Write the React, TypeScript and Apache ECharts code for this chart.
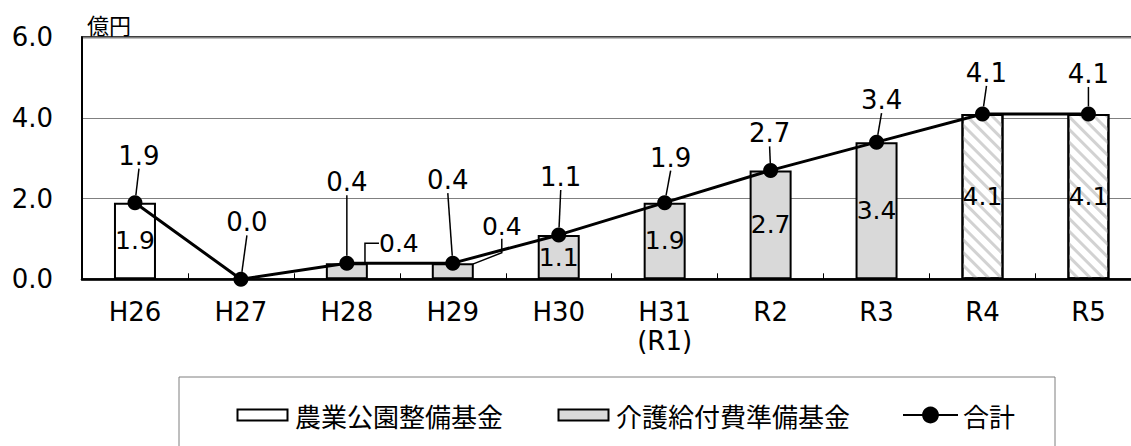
import React, { useEffect, useRef } from 'react';
import * as echarts from 'echarts';

// ---- data ----
const categories = ['H26', 'H27', 'H28', 'H29', 'H30', 'H31\n(R1)', 'R2', 'R3', 'R4', 'R5'];
const nogyoKoenKikin = [1.9, null, null, null, null, null, null, null, null, null];
const kaigoKyufuKikin = [null, null, 0.4, 0.4, 1.1, 1.9, 2.7, 3.4, 4.1, 4.1];
const kaigoIsPlan = [false, false, false, false, false, false, false, false, true, true];
const totalValues = [1.9, 0.0, 0.4, 0.4, 1.1, 1.9, 2.7, 3.4, 4.1, 4.1];
const seriesNames = ['農業公園整備基金', '介護給付費準備基金', '合計'];
const yUnit = '億円';

// ---- label placement (pixel offsets from the mark's centre) ----
const TOTAL_LABEL_OFFSETS = [
  [4, -47], [6, -57], [0, -81], [-5, -83], [2, -58],
  [6, -45], [-1, -37], [5, -42], [4, -41], [0, -40],
];
const KAIGO_LABEL_OFFSETS: (number[] | null)[] = [
  null, null, [52, -28], [49, -45], null, null, null, null, null, null,
];

const NUM_FONT = "'DejaVu Sans', 'Noto Sans CJK JP', sans-serif";
const CJK_FONT = "'Noto Sans CJK JP', sans-serif";
const RECT_ICON = 'path://M0,0M2.5,5H52.5V16H2.5ZM55,21';

export default function App() {
  const ref = useRef<HTMLDivElement>(null);

  useEffect(() => {
    if (!ref.current) return;
    const chart = echarts.init(ref.current, null, { renderer: 'svg' });

    const fmt = (p: any) => (typeof p.value === 'number' ? p.value.toFixed(1) : '');

    const kaigoData = kaigoKyufuKikin.map((v, i) => {
      if (v == null) return null;
      const item: any = { value: v };
      if (kaigoIsPlan[i]) {
        item.itemStyle = {
          color: '#ffffff',
          decal: {
            symbol: 'rect',
            symbolSize: 1,
            dashArrayX: [1, 0],
            dashArrayY: [3, 6],
            rotation: Math.PI / 4,
            color: '#d2d2d2',
          },
        };
      }
      if (KAIGO_LABEL_OFFSETS[i]) {
        item.labelLine = { show: true, length2: 14, lineStyle: { color: '#000', width: 1.5 } };
      }
      return item;
    });

    const option: any = {
      animation: false,
      backgroundColor: '#ffffff',
      textStyle: { fontFamily: NUM_FONT },
      grid: {
        left: 82,
        top: 37.3,
        right: -10.4,
        bottom: 166.7,
        show: true,
        borderColor: '#000',
        borderWidth: 2,
        containLabel: false,
        outerBoundsMode: 'none',
      },
      legend: {
        left: 179,
        top: 377,
        orient: 'horizontal',
        padding: [25, 40, 30, 55],
        itemGap: 52,
        itemWidth: 55,
        itemHeight: 21,
        borderColor: '#7f7f7f',
        borderWidth: 1,
        textStyle: { fontSize: 26, fontFamily: CJK_FONT, color: '#000' },
        data: [
          { name: seriesNames[0], icon: RECT_ICON },
          { name: seriesNames[1], icon: RECT_ICON },
          { name: seriesNames[2] },
        ],
      },
      xAxis: {
        type: 'category',
        data: categories,
        boundaryGap: true,
        axisLine: { lineStyle: { color: '#000', width: 2.5 } },
        axisTick: { show: true, inside: true, length: 6, lineStyle: { color: '#000', width: 1 } },
        axisLabel: {
          interval: 0,
          fontSize: 26,
          color: '#000',
          fontFamily: NUM_FONT,
          margin: 18,
          lineHeight: 29,
        },
        splitLine: { show: false },
      },
      yAxis: {
        type: 'value',
        min: 0,
        max: 6,
        interval: 2,
        name: yUnit,
        nameLocation: 'end',
        nameGap: 13,
        nameTextStyle: {
          fontSize: 22,
          fontFamily: CJK_FONT,
          color: '#000',
          align: 'left',
          verticalAlign: 'middle',
          padding: [0, 0, 0, 5],
        },
        axisLine: { show: true, lineStyle: { color: '#000', width: 2 } },
        axisTick: { show: false },
        axisLabel: {
          formatter: (v: number) => v.toFixed(1),
          fontSize: 26,
          color: '#000',
          fontFamily: NUM_FONT,
          margin: 29,
        },
        splitLine: { show: true, lineStyle: { color: '#808080', width: 1 } },
      },
      series: [
        {
          name: seriesNames[0],
          type: 'bar',
          stack: 'fund',
          barWidth: 42,
          data: nogyoKoenKikin,
          itemStyle: { color: '#ffffff', borderColor: '#000', borderWidth: 2 },
          label: {
            show: true,
            position: 'inside',
            formatter: fmt,
            fontSize: 25,
            fontFamily: NUM_FONT,
            color: '#000',
          },
          z: 2,
        },
        {
          name: seriesNames[1],
          type: 'bar',
          stack: 'fund',
          barWidth: 42,
          data: kaigoData,
          itemStyle: { color: '#d9d9d9', borderColor: '#000', borderWidth: 2 },
          label: {
            show: true,
            position: 'inside',
            formatter: fmt,
            fontSize: 25,
            fontFamily: NUM_FONT,
            color: '#000',
          },
          labelLayout: (p: any) => {
            const off = KAIGO_LABEL_OFFSETS[p.dataIndex];
            if (!off) return {};
            return {
              x: p.rect.x + p.rect.width / 2 + off[0],
              y: p.rect.y + p.rect.height / 2 + off[1],
              align: 'center',
              verticalAlign: 'middle',
            };
          },
          z: 2,
        },
        {
          name: seriesNames[2],
          type: 'line',
          data: totalValues,
          symbol: 'circle',
          symbolSize: 15,
          lineStyle: { color: '#000', width: 3 },
          itemStyle: { color: '#000' },
          label: {
            show: true,
            position: 'top',
            formatter: fmt,
            fontSize: 26,
            fontFamily: NUM_FONT,
            color: '#000',
          },
          labelLine: { show: true, lineStyle: { color: '#000', width: 1.5 } },
          labelLayout: (p: any) => {
            const off = TOTAL_LABEL_OFFSETS[p.dataIndex];
            return {
              x: p.rect.x + p.rect.width / 2 + off[0],
              y: p.rect.y + p.rect.height / 2 + off[1],
              align: 'center',
              verticalAlign: 'middle',
            };
          },
          z: 5,
        },
      ],
    };

    chart.setOption(option);
    return () => {
      chart.dispose();
    };
  }, []);

  return (
    <div
      ref={ref}
      style={{ position: 'absolute', left: 0, top: 0, width: 1131, height: 446, overflow: 'hidden' }}
    />
  );
}
